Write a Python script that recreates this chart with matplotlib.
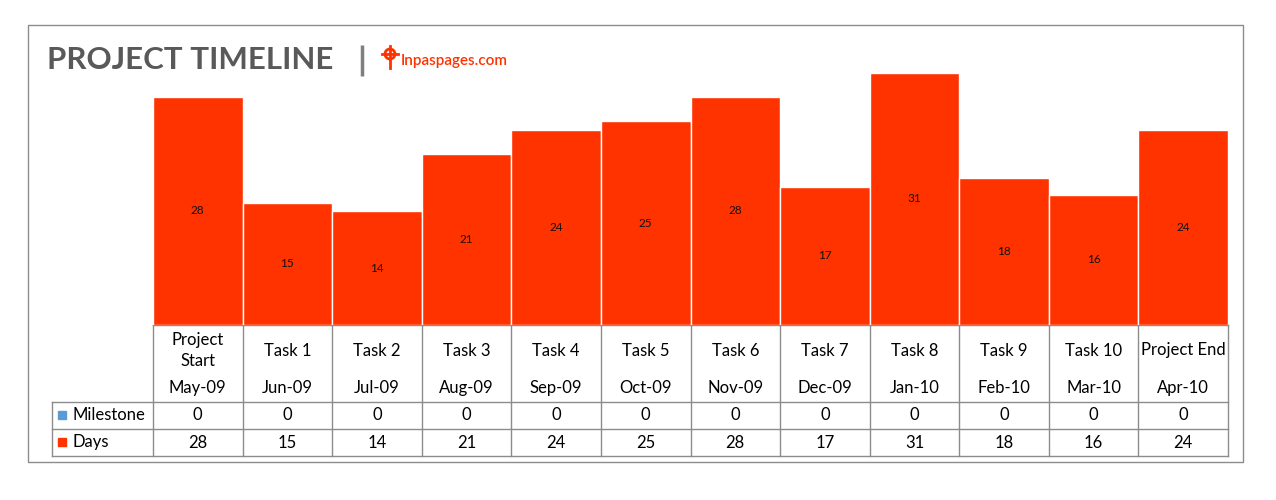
import matplotlib.pyplot as plt
import matplotlib.transforms as mtransforms
from matplotlib.patches import Rectangle, Circle

# chart data
tasks = ['Project\nStart', 'Task 1', 'Task 2', 'Task 3', 'Task 4', 'Task 5',
         'Task 6', 'Task 7', 'Task 8', 'Task 9', 'Task 10', 'Project End']
months = ['May-09', 'Jun-09', 'Jul-09', 'Aug-09', 'Sep-09', 'Oct-09',
          'Nov-09', 'Dec-09', 'Jan-10', 'Feb-10', 'Mar-10', 'Apr-10']
milestone = [0, 0, 0, 0, 0, 0, 0, 0, 0, 0, 0, 0]
days = [28, 15, 14, 21, 24, 25, 28, 17, 31, 18, 16, 24]

plt.rcParams['font.family'] = ['Lato', 'DejaVu Sans']

RED = '#FF3300'
BLUE = '#5B9BD5'
GRID = '#8c8c8c'

fig = plt.figure(figsize=(12.76, 5), dpi=100)

# background axes in pixel coordinates for frame, title and table
bg = fig.add_axes([0, 0, 1, 1])
bg.set_xlim(0, 1276)
bg.set_ylim(500, 0)
bg.axis('off')
bg.add_patch(Rectangle((28, 25), 1215, 437, fill=False, ec=GRID, lw=1))

# title and logo
bg.text(47, 60, 'PROJECT TIMELINE', fontsize=22.5, fontweight='bold',
        color='#595959', va='center', ha='left')
bg.plot([362, 362], [45, 76], color='#7f7f7f', lw=2.5, solid_capstyle='butt')
bg.add_patch(Circle((390, 54), 5, fill=False, ec=RED, lw=2))
bg.plot([382, 398], [54, 54], color=RED, lw=2)
bg.plot([390, 390], [46, 68], color=RED, lw=2)
bg.text(401, 61, 'Inpaspages.com', fontsize=11, fontweight='semibold',
        color=RED, va='center', ha='left')

# bars
ax = fig.add_axes([153 / 1276, 175 / 500, 1075 / 1276, 285 / 500])
x = list(range(len(days)))
bars = ax.bar(x, days, width=1, color=RED, edgecolor='white', linewidth=1)
ax.set_xlim(-0.5, len(days) - 0.5)
ax.set_ylim(0, 35)
ax.axis('off')
ax.bar_label(bars, label_type='center', fontsize=8.5, color='#111111')

# data table under the bars
tr = mtransforms.blended_transform_factory(ax.transData, bg.transData)
cat_w = 1075 / len(days)
left_x = -0.5 - 101 / cat_w
right_x = len(days) - 0.5
line_kw = dict(color=GRID, lw=1, transform=tr, clip_on=False)

bg.plot([-0.5, right_x], [325, 325], **line_kw)
for yy in [402, 429, 456]:
    bg.plot([left_x, right_x], [yy, yy], **line_kw)
for i in range(len(days) + 1):
    bg.plot([i - 0.5, i - 0.5], [325, 456], **line_kw)
bg.plot([left_x, left_x], [402, 456], **line_kw)

txt_kw = dict(fontsize=12, color='black', ha='center', va='center',
              transform=tr, clip_on=False)
for i in x:
    bg.text(i, 350.5, tasks[i], linespacing=1.45, **txt_kw)
    bg.text(i, 388, months[i], **txt_kw)
    bg.text(i, 415.5, str(milestone[i]), **txt_kw)
    bg.text(i, 442.5, str(days[i]), **txt_kw)

# row labels with legend keys
bg.plot([62], [414.5], marker='s', markersize=6, color=BLUE)
bg.plot([62], [441.5], marker='s', markersize=6, color=RED)
bg.text(73, 415, 'Milestone', fontsize=12, va='center', ha='left')
bg.text(73, 442, 'Days', fontsize=12, va='center', ha='left')

fig.savefig('out.png', dpi=100)
